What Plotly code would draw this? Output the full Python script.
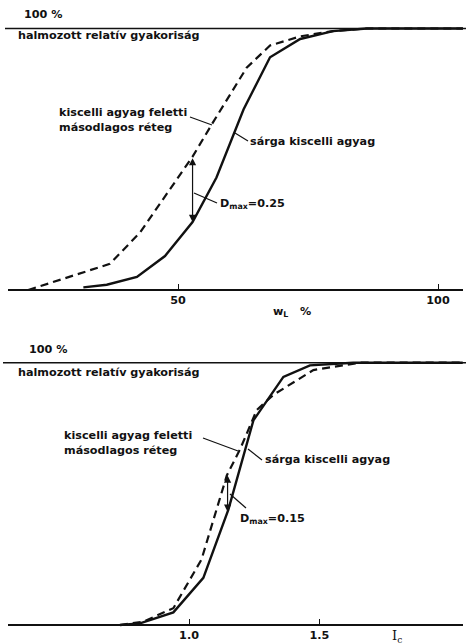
import numpy as np
import plotly.graph_objects as go

W, H = 466, 644

# ---- data: top panel (liquid limit w_L %) ----
wl_dashed_x = [21.2, 36.9, 42.7, 52.8, 56.7, 63.2, 67.7, 73.5, 79.8, 86.3, 104.8]
wl_dashed_y = [0.00, 0.10, 0.22, 0.51, 0.64, 0.85, 0.935, 0.97, 0.99, 1.00, 1.00]
wl_solid_x = [31.8, 36.3, 42.1, 47.5, 52.8, 57.4, 62.6, 67.7, 73.5, 79.8, 86.3, 104.8]
wl_solid_y = [0.01, 0.02, 0.05, 0.13, 0.26, 0.43, 0.69, 0.89, 0.96, 0.99, 1.00, 1.00]
wl_ticks = [50, 100]
wl_dmax_x = 52.8
wl_dmax_label = "D<sub>max</sub>=0.25"

# ---- data: bottom panel (consistency index I_c) ----
ic_dashed_x = [0.735, 0.825, 0.940, 1.048, 1.145, 1.196, 1.260, 1.323, 1.477, 1.554, 1.656, 2.05]
ic_dashed_y = [0.00, 0.013, 0.064, 0.25, 0.57, 0.67, 0.82, 0.877, 0.972, 0.985, 1.00, 1.00]
ic_solid_x = [0.735, 0.812, 0.940, 1.055, 1.151, 1.247, 1.362, 1.464, 1.630, 2.05]
ic_solid_y = [0.00, 0.006, 0.048, 0.18, 0.44, 0.78, 0.946, 0.99, 1.00, 1.00]
ic_ticks = [1.0, 1.5]
ic_tick_text = ["1.0", "1.5"]
ic_dmax_x = 1.148
ic_dmax_label = "D<sub>max</sub>=0.15"

label_upper = "kiscelli agyag feletti<br>másodlagos réteg"
label_yellow = "sárga kiscelli agyag"
y_title = "halmozott relatív gyakoriság"
full_label = "100 %"

FONT = "DejaVu Sans"
FSIZE = 11.2
INK = "#111111"


def X(px):
    return px / W


def Y(py):
    return 1 - py / H


fig = go.Figure()

dash_style = dict(color=INK, width=2.2, dash="8px,5px")
solid_style = dict(color=INK, width=2.4)

fig.add_trace(go.Scatter(x=wl_dashed_x, y=wl_dashed_y, mode="lines", line=dash_style,
                         xaxis="x", yaxis="y", showlegend=False, hoverinfo="skip"))
fig.add_trace(go.Scatter(x=wl_solid_x, y=wl_solid_y, mode="lines", line=solid_style,
                         xaxis="x", yaxis="y", showlegend=False, hoverinfo="skip"))
fig.add_trace(go.Scatter(x=ic_dashed_x, y=ic_dashed_y, mode="lines", line=dash_style,
                         xaxis="x2", yaxis="y2", showlegend=False, hoverinfo="skip"))
fig.add_trace(go.Scatter(x=ic_solid_x, y=ic_solid_y, mode="lines", line=solid_style,
                         xaxis="x2", yaxis="y2", showlegend=False, hoverinfo="skip"))

# axes layout (pixel-based)
top_scale = 261.5
top_dom = (0, 305)
top_yr = [-(top_dom[1] - 290) / top_scale, 1 + (28.5 - top_dom[0]) / top_scale]
top_xr = [(8 + 82) / 5.2, (463 + 82) / 5.2]
bot_scale = 262.3
bot_dom = (330, 644)
bot_yr = [-(bot_dom[1] - 625) / bot_scale, 1 + (362.7 - bot_dom[0]) / bot_scale]
bot_xr = [(8 + 71.7) / 260.7, (463 + 71.7) / 260.7]

axis_common = dict(showgrid=False, zeroline=False, showline=True, linecolor=INK, linewidth=1.6,
                   ticks="inside", ticklen=5, tickwidth=1.4, tickcolor=INK,
                   tickfont=dict(family=FONT, size=FSIZE, color=INK, weight="bold"),
                   anchor="free", fixedrange=True)

fig.update_layout(
    width=W, height=H, margin=dict(l=0, r=0, t=0, b=0),
    paper_bgcolor="white", plot_bgcolor="white",
    xaxis=dict(domain=[X(8), X(463)], range=top_xr, tickvals=wl_ticks,
               position=Y(290), **axis_common),
    yaxis=dict(domain=[Y(top_dom[1]), Y(top_dom[0])], range=top_yr, visible=False,
               anchor="x", fixedrange=True),
    xaxis2=dict(domain=[X(8), X(463)], range=bot_xr, tickvals=ic_ticks, ticktext=ic_tick_text,
                position=Y(625), **axis_common),
    yaxis2=dict(domain=[Y(bot_dom[1]), Y(bot_dom[0])], range=bot_yr, visible=False,
                anchor="x2", fixedrange=True),
)

shapes = []
shapes.append(dict(type="line", xref="paper", yref="y", x0=X(5), x1=1, y0=1.0, y1=1.0,
                   line=dict(color=INK, width=1.6)))
shapes.append(dict(type="line", xref="paper", yref="y2", x0=X(3), x1=1, y0=1.0, y1=1.0,
                   line=dict(color=INK, width=1.6)))
leaders = [((190, 117), (212, 125)), ((235, 133), (248, 141)), ((194, 193), (217, 203)),
           ((203, 438), (238, 451)), ((248, 449), (262, 460)), ((230, 494), (246, 508))]
for (a, b) in leaders:
    shapes.append(dict(type="line", xref="paper", yref="paper", x0=X(a[0]), y0=Y(a[1]),
                       x1=X(b[0]), y1=Y(b[1]), line=dict(color=INK, width=1.2)))
fig.update_layout(shapes=shapes)

ann = []


def txt(px, py, s, size=FSIZE, anchor="left", family=FONT, weight="bold"):
    ann.append(dict(x=X(px), y=Y(py), xref="paper", yref="paper", text=s, showarrow=False,
                    xanchor=anchor, yanchor="middle", align="left",
                    font=dict(family=family, size=size, color=INK, weight=weight)))


txt(22, 15, full_label)
txt(16, 35, y_title)
txt(57, 119.5, label_upper)
txt(248, 141, label_yellow)
txt(218, 204, wl_dmax_label)
txt(292, 312, "w<sub>L</sub>   %", anchor="center")
txt(27, 349, full_label)
txt(16, 372, y_title)
txt(62, 442.5, label_upper)
txt(263, 459, label_yellow)
txt(238, 519, ic_dmax_label)
txt(397, 636, "I<sub>c</sub>", size=13, anchor="center", family="DejaVu Serif", weight="normal")

for xv, dx, dy, sx, sy, xr, yr in [
    (wl_dmax_x, wl_dashed_x, wl_dashed_y, wl_solid_x, wl_solid_y, "x", "y"),
    (ic_dmax_x, ic_dashed_x, ic_dashed_y, ic_solid_x, ic_solid_y, "x2", "y2"),
]:
    y_top = float(np.interp(xv, dx, dy))
    y_bot = float(np.interp(xv, sx, sy))
    ann.append(dict(x=xv, y=y_bot, ax=xv, ay=y_top, xref=xr, yref=yr, axref=xr, ayref=yr,
                    text="", showarrow=True, arrowhead=2, startarrowhead=2, arrowside="end+start",
                    arrowwidth=1.2, arrowsize=1.2, startarrowsize=1.2, arrowcolor=INK,
                    standoff=0, startstandoff=0))

fig.update_layout(annotations=ann)

fig.write_html("out.html")
